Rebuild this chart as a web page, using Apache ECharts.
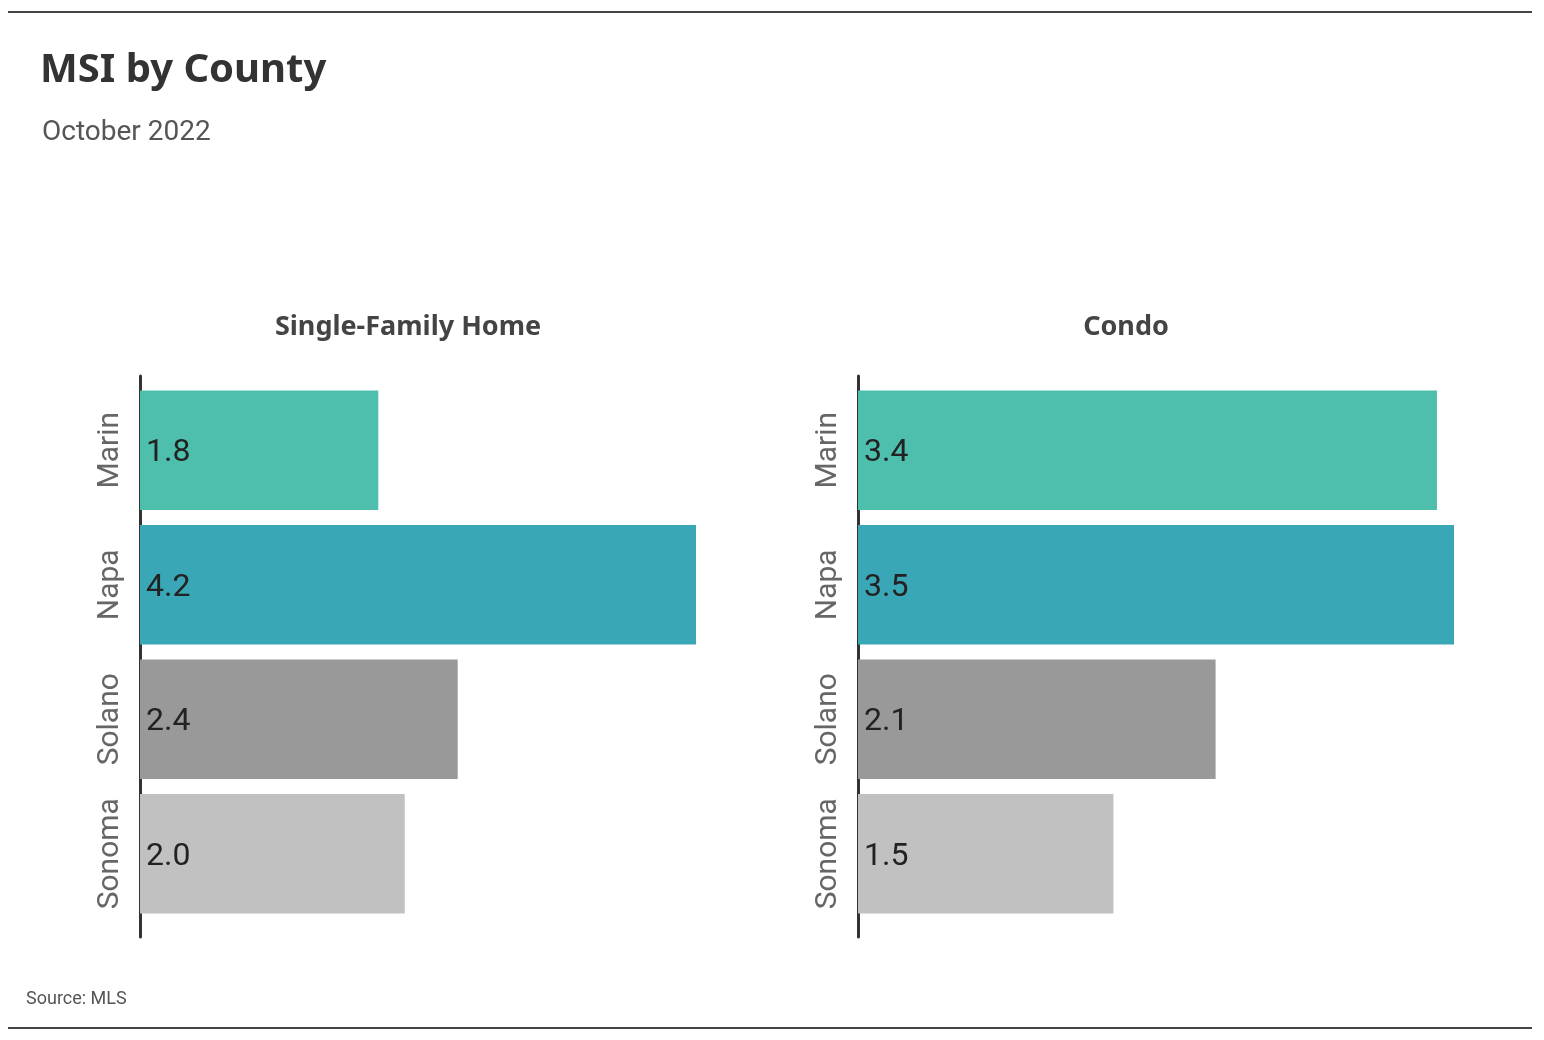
<!DOCTYPE html>
<html><head><meta charset="utf-8">
<script src="https://cdn.jsdelivr.net/npm/echarts@6/dist/echarts.min.js"></script>
<style>html,body{margin:0;padding:0;background:#fff}#c{width:1544px;height:1040px}</style>
</head><body><div id="c"></div>
<script>
const counties = ['Marin', 'Napa', 'Solano', 'Sonoma'];
const singleFamily = [1.8, 4.2, 2.4, 2.0];
const condo = [3.4, 3.5, 2.1, 1.5];
const barColors = ['#4fbfad', '#3aa7b7', '#999999', '#c1c1c1'];
const panelTitles = ['Single-Family Home', 'Condo'];

const NARROW = 'Roboto, "Liberation Sans", sans-serif';
const BOLD = '"Noto Sans", "Open Sans", sans-serif';

const chart = echarts.init(document.getElementById('c'), null, {renderer: 'canvas'});

const grids = [
  {left: 140, top: 383, width: 556, height: 538},
  {left: 858, top: 383, width: 596, height: 538},
  {left: 140, top: 376, width: 556, height: 561},
  {left: 858, top: 376, width: 596, height: 561}
];

function barSeries(idx, vals) {
  return {
    type: 'bar', xAxisIndex: idx, yAxisIndex: idx,
    barCategoryGap: '11%',
    data: vals.map((v, i) => ({value: v, itemStyle: {color: barColors[i]}})),
    label: {show: true, position: 'insideLeft', distance: 6, offset: [0, 3], color: '#222',
      fontFamily: NARROW, fontSize: 32, formatter: p => p.value.toFixed(1)},
    silent: true
  };
}

chart.setOption({
  animation: false,
  backgroundColor: '#fff',
  title: [
    {text: 'MSI by County', left: 35, top: 46, textStyle: {fontFamily: BOLD, fontWeight: 'bold', fontSize: 40, color: '#333'}},
    {text: 'October 2022', left: 37, top: 114, textStyle: {fontFamily: NARROW, fontWeight: 'normal', fontSize: 28, color: '#555'}},
    {text: panelTitles[0], left: 403, top: 309, textAlign: 'center', textStyle: {fontFamily: BOLD, fontWeight: 'bold', fontSize: 27, color: '#444'}},
    {text: panelTitles[1], left: 1121, top: 309, textAlign: 'center', textStyle: {fontFamily: BOLD, fontWeight: 'bold', fontSize: 27, color: '#444'}},
    {text: 'Source: MLS', left: 21, top: 985, textStyle: {fontFamily: NARROW, fontWeight: 'normal', fontSize: 18, color: '#555'}}
  ],
  grid: grids,
  xAxis: [
    {type: 'value', gridIndex: 0, min: 0, max: 4.2, show: false},
    {type: 'value', gridIndex: 1, min: 0, max: 3.5, show: false},
    {type: 'value', gridIndex: 2, min: 0, max: 1, show: false},
    {type: 'value', gridIndex: 3, min: 0, max: 1, show: false}
  ],
  yAxis: [0, 1].map(i => ({
    type: 'category', gridIndex: i, data: counties, inverse: true,
    axisLine: {show: false}, axisTick: {show: false},
    axisLabel: {interval: 0, rotate: 90, margin: 15, fontFamily: NARROW, fontSize: 30, color: '#666', align: 'center', verticalAlign: 'bottom'}
  })).concat([2, 3].map(i => ({
    type: 'category', gridIndex: i, data: counties,
    axisLine: {show: true, lineStyle: {color: '#333', width: 3}},
    axisTick: {show: false}, axisLabel: {show: false}
  }))),
  series: [barSeries(0, singleFamily), barSeries(1, condo)],
  graphic: [
    {type: 'line', shape: {x1: 8, y1: 12, x2: 1532, y2: 12}, style: {stroke: '#444', lineWidth: 2}},
    {type: 'line', shape: {x1: 8, y1: 1028, x2: 1532, y2: 1028}, style: {stroke: '#444', lineWidth: 2}}
  ]
});
</script></body></html>
